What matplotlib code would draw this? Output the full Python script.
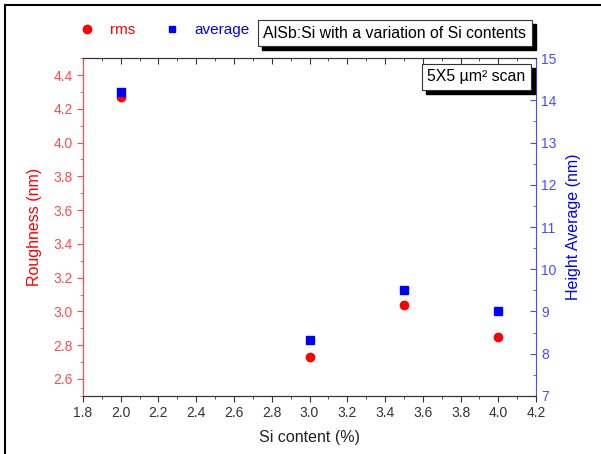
import matplotlib
matplotlib.use("Agg")
import matplotlib.pyplot as plt
from matplotlib.ticker import MultipleLocator
from matplotlib.lines import Line2D
from matplotlib.patches import Rectangle

si = [2.0, 3.0, 3.5, 4.0]
rms = [4.27, 2.73, 3.04, 2.85]
avg = [14.2, 8.33, 9.51, 9.01]

plt.rcParams.update({"font.family": ["Liberation Sans", "DejaVu Sans"]})
RED, BLUE = "#FF0000", "#0000FF"
LRED, LBLUE = "#FF4B4B", "#4B4BFF"
DARK = "#333333"

fig = plt.figure(figsize=(6.01, 4.54), dpi=100)
ax = fig.add_axes([0.138, 0.128, 0.754, 0.744])
ax2 = ax.twinx()

ax.plot(si, rms, "o", color=RED, ms=6, zorder=3)
ax2.plot(si, avg, "s", color=BLUE, ms=5.5, zorder=3)

ax.set_xlim(1.8, 4.2)
ax.set_ylim(2.5, 4.5)
ax2.set_ylim(7, 15)

ax.xaxis.set_major_locator(MultipleLocator(0.2))
ax.xaxis.set_minor_locator(MultipleLocator(0.1))
ax.yaxis.set_major_locator(MultipleLocator(0.2))
ax.yaxis.set_minor_locator(MultipleLocator(0.1))
ax2.yaxis.set_major_locator(MultipleLocator(1))
ax2.yaxis.set_minor_locator(MultipleLocator(0.5))
ax.xaxis.set_major_formatter(plt.FormatStrFormatter("%.1f"))
ax.yaxis.set_major_formatter(plt.FormatStrFormatter("%.1f"))

ax.tick_params(axis="x", which="both", direction="out", top=True, labelsize=10,
               colors=DARK)
ax.tick_params(axis="x", which="major", length=4)
ax.tick_params(axis="x", which="minor", length=2.5)
ax.tick_params(axis="y", which="both", direction="out", colors=LRED, labelsize=10)
ax.tick_params(axis="y", which="major", length=4)
ax.tick_params(axis="y", which="minor", length=2.5)
ax2.tick_params(axis="y", which="both", direction="in", colors=LBLUE, labelsize=10)
ax2.tick_params(axis="y", which="major", length=4)
ax2.tick_params(axis="y", which="minor", length=2.5)
# top ticks point into the plot
for t in ax.xaxis.get_ticklines(minor=False)[1::2] + ax.xaxis.get_ticklines(minor=True)[1::2]:
    t.set_marker(3)

ax.spines["left"].set_color(LRED)
ax2.spines["left"].set_color(LRED)
ax2.spines["right"].set_color(LBLUE)
ax.spines["right"].set_visible(False)
for a in (ax, ax2):
    a.spines["top"].set_color(DARK)
    a.spines["bottom"].set_color(DARK)

ax.set_xlabel("Si content (%)", fontsize=11.5, color="#222222", labelpad=7)
ax.set_ylabel("Roughness (nm)", fontsize=11.5, color=RED, labelpad=8)
ax2.set_ylabel("Height Average (nm)", fontsize=11.5, color=BLUE, labelpad=7)

# legend above the plot
handles = [Line2D([], [], ls="", marker="o", color=RED, ms=6),
           Line2D([], [], ls="", marker="s", color=BLUE, ms=5)]
leg = fig.legend(handles, ["rms", "average"], loc="center left",
                 bbox_to_anchor=(0.109, 0.934), ncol=2, frameon=False,
                 fontsize=11, handlelength=1.0, handletextpad=1.0,
                 columnspacing=1.9)
for txt, c in zip(leg.get_texts(), [RED, BLUE]):
    txt.set_color(c)

# boxed notes with a black drop shadow
boxes = []
for x, y, s in [(0.438, 0.927, "AlSb:Si with a variation of Si contents"),
                (0.711, 0.831, "5X5 µm² scan")]:
    t = fig.text(x, y, s, fontsize=11.4, va="center", ha="left", zorder=10,
                 bbox=dict(boxstyle="square,pad=0.35", fc="white", ec=DARK, lw=0.8))
    boxes.append(t)
fig.canvas.draw()
for t in boxes:
    bb = t.get_bbox_patch().get_window_extent().transformed(fig.transFigure.inverted())
    fig.add_artist(Rectangle((bb.x0 + 4 / 601, bb.y0 - 4 / 454), bb.width, bb.height,
                             transform=fig.transFigure, fc="black", ec="black", zorder=9))

# outer frame (left and top edges)
fig.add_artist(Line2D([0.009, 0.009], [0, 0.99], color="black", lw=1.5))
fig.add_artist(Line2D([0.009, 1.0], [0.99, 0.99], color="black", lw=1.5))

fig.savefig("out.png", dpi=100)
